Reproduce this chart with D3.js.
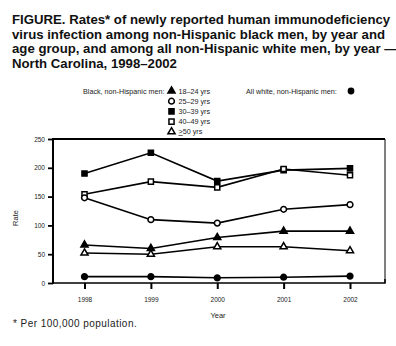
<!DOCTYPE html>
<html><head><meta charset="utf-8">
<script src="https://cdn.jsdelivr.net/npm/d3@7"></script>
<style>body{margin:0;background:#fff}svg{display:block;font-family:"Liberation Sans",Arial,sans-serif}</style>
</head><body><svg id="c" width="396" height="346"></svg>
<script>
const years = [1998, 1999, 2000, 2001, 2002];
const yTicks = [0, 50, 100, 150, 200, 250];
const ageGroups = ["18–24 yrs", "25–29 yrs", "30–39 yrs", "40–49 yrs", "≥50 yrs"];
const black18_24 = [66, 60, 79, 90, 90];
const black25_29 = [148, 110, 104, 128, 136];
const black30_39 = [190, 226, 177, 196, 199];
const black40_49 = [154, 176, 166, 198, 187];
const black50plus = [52, 50, 63, 63, 56];
const whiteAll = [11, 11, 9, 10, 12];
const titleLines = [
  "FIGURE. Rates* of newly reported human immunodeficiency",
  "virus infection among non-Hispanic black men, by year and",
  "age group, and among all non-Hispanic white men, by year —",
  "North Carolina, 1998–2002"
];

const series = [
  {vals: black30_39, sym: d3.symbolSquare, fill: "#000"},
  {vals: black40_49, sym: d3.symbolSquare, fill: "#fff"},
  {vals: black25_29, sym: d3.symbolCircle, fill: "#fff"},
  {vals: black18_24, sym: d3.symbolTriangle, fill: "#000"},
  {vals: black50plus, sym: d3.symbolTriangle, fill: "#fff"},
  {vals: whiteAll, sym: d3.symbolCircle, fill: "#000"}
];
const legendOrder = [3, 2, 0, 1, 4];

const svg = d3.select("#c");
const L = 53, R = 385, T = 139, B = 283;
const x = d3.scaleLinear().domain([1998, 2002]).range([84.5, 350]);
const y = d3.scaleLinear().domain([0, 250]).range([B, T]);
const narrow = "'Liberation Sans Narrow','Arial Narrow','Liberation Sans',sans-serif";

// title
const tt = svg.append("text").attr("font-weight", "bold").attr("font-size", 13.2).attr("fill", "#111");
titleLines.forEach((s, i) => tt.append("tspan").attr("x", 12).attr("y", 24 + i * 14.5).text(s));

// frame
svg.append("line").attr("x1", L).attr("x2", R).attr("y1", T).attr("y2", T).attr("stroke", "#000").attr("stroke-width", 2);
svg.append("line").attr("x1", R).attr("x2", R).attr("y1", T).attr("y2", B).attr("stroke", "#000").attr("stroke-width", 1);

// axes
const yAxis = svg.append("g").attr("transform", `translate(${L},0)`)
  .call(d3.axisLeft(y).tickValues(yTicks).tickSize(5).tickPadding(3));
yAxis.select(".domain").attr("stroke-width", 2).attr("d", `M0,${T-1}V${B+1}`);
yAxis.selectAll(".tick line").attr("stroke-width", 1.8);
yAxis.selectAll("text").attr("font-size", 6.5).attr("font-family", narrow).attr("fill", "#222");

const xAxis = svg.append("g").attr("transform", `translate(0,${B})`)
  .call(d3.axisBottom(x).tickValues(years).tickFormat(d3.format("d")).tickSize(6).tickPadding(8));
xAxis.select(".domain").attr("stroke-width", 1.5).attr("d", `M${L},0H${R}V-4`);
xAxis.selectAll(".tick line").attr("stroke-width", 2);
xAxis.selectAll("text").attr("font-size", 6.5).attr("font-family", narrow).attr("fill", "#222");

svg.append("text").attr("x", 218).attr("y", 318).attr("text-anchor", "middle").attr("font-size", 7.5).attr("fill", "#222").text("Year");
svg.append("text").attr("transform", "translate(18,218) rotate(-90)").attr("text-anchor", "middle").attr("font-size", 7.5).attr("fill", "#222").text("Rate");

// lines
const line = d3.line().x((d, i) => x(years[i])).y(d => y(d));
series.forEach(s => {
  svg.append("path").attr("d", line(s.vals)).attr("fill", "none").attr("stroke", "#000").attr("stroke-width", 1.6);
});
function symSize(sym) { return sym === d3.symbolTriangle ? 22 : sym === d3.symbolSquare ? 26 : 26; }
series.forEach(s => {
  svg.append("g").selectAll("path").data(s.vals).join("path")
    .attr("transform", (d, i) => `translate(${x(years[i])},${y(d)})`)
    .attr("d", d3.symbol().type(s.sym).size(symSize(s.sym)))
    .attr("fill", s.fill).attr("stroke", "#000").attr("stroke-width", 1.5);
});

// legend
svg.append("text").attr("x", 83).attr("y", 93.5).attr("font-size", 7.2).attr("fill", "#222").text("Black, non-Hispanic men:");
legendOrder.forEach((si, k) => {
  const s = series[si], yy = 91 + k * 10.2;
  svg.append("path").attr("transform", `translate(171.5,${yy})`)
    .attr("d", d3.symbol().type(s.sym).size(symSize(s.sym)))
    .attr("fill", s.fill).attr("stroke", "#000").attr("stroke-width", 1.5);
  const t = svg.append("text").attr("x", 178.5).attr("y", yy + 2.5).attr("font-size", 7.2).attr("fill", "#222");
  if (ageGroups[k].startsWith("≥")) {
    t.append("tspan").attr("text-decoration", "underline").text(">");
    t.append("tspan").text(ageGroups[k].slice(1));
  } else t.text(ageGroups[k]);
});
svg.append("text").attr("x", 246).attr("y", 93.5).attr("font-size", 7.2).attr("fill", "#222").text("All white, non-Hispanic men:");
svg.append("path").attr("transform", "translate(351,91)")
  .attr("d", d3.symbol().type(d3.symbolCircle).size(36)).attr("fill", "#000");

// footnote
svg.append("text").attr("x", 13).attr("y", 327).attr("font-size", 10).attr("letter-spacing", 0.45).attr("fill", "#222").text("* Per 100,000 population.");
</script></body></html>
